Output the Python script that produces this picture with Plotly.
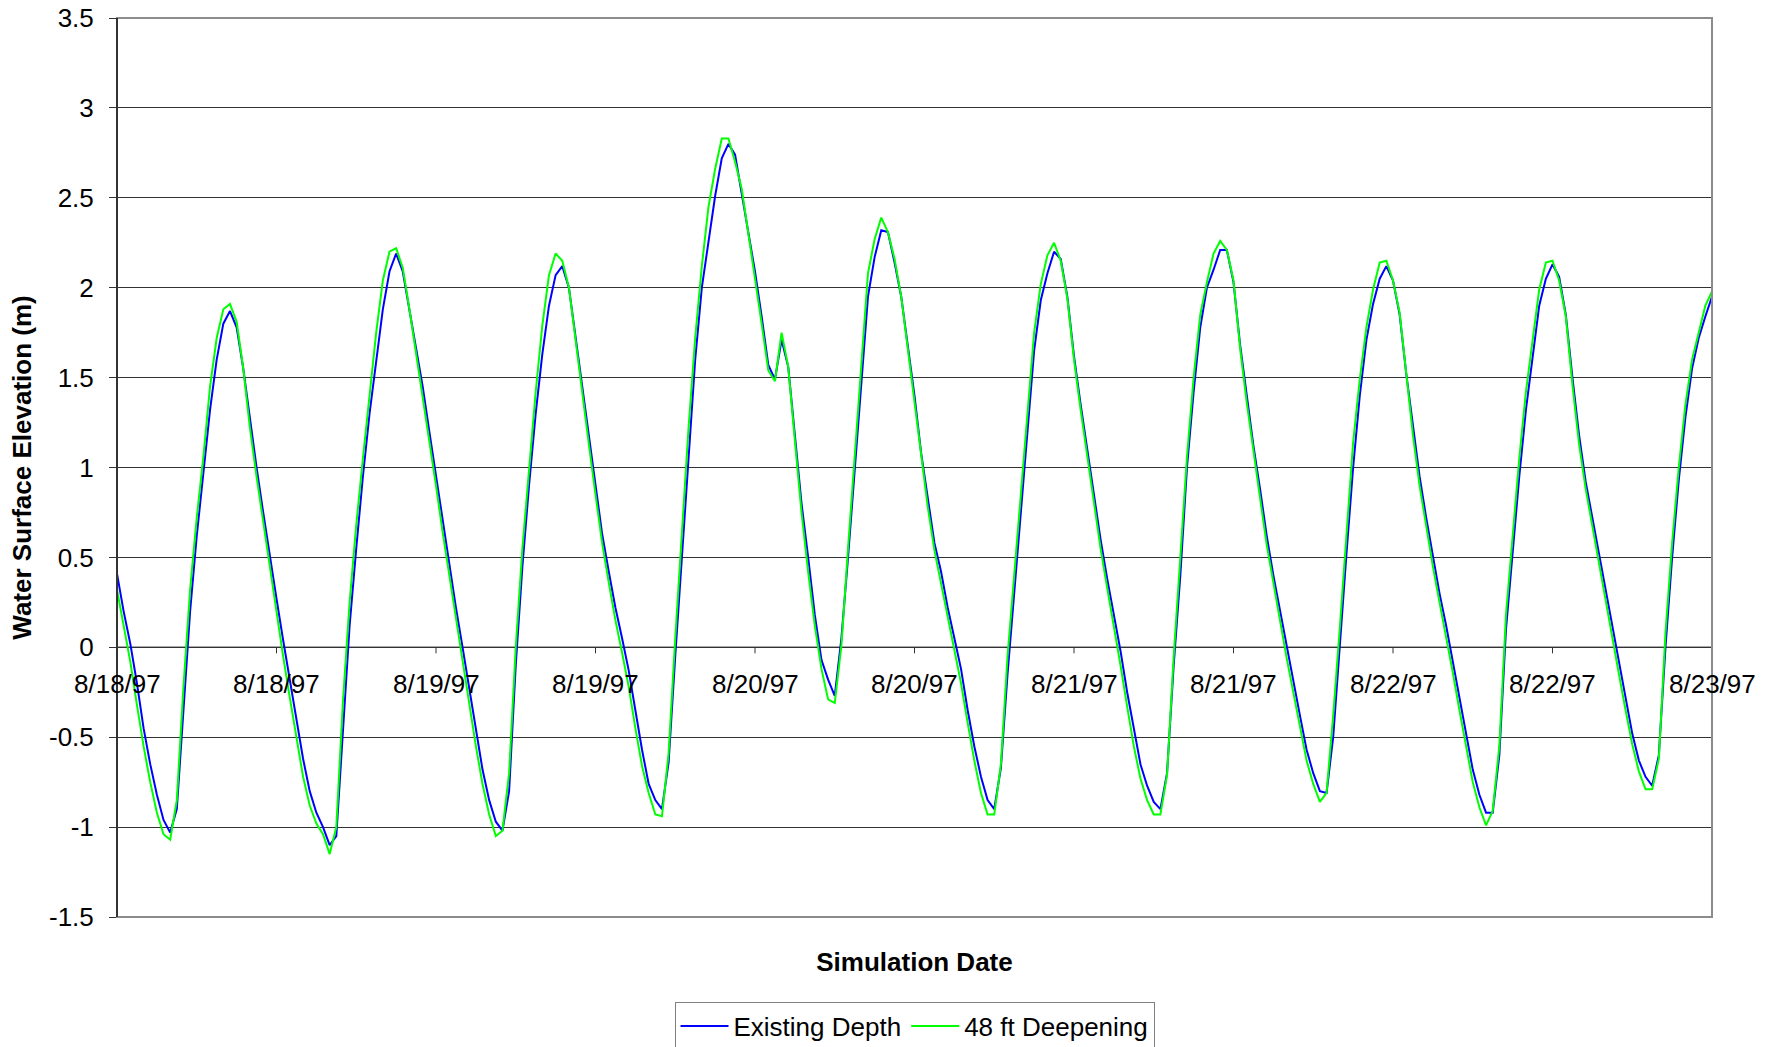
import pandas as pd
import plotly.graph_objects as go

# Half-hourly simulation times, 8/18/97 00:00 to 8/23/97 00:00
times = pd.date_range("1997-08-18 00:00", "1997-08-23 00:00", freq="30min")

existing_depth = [
    0.41, 0.20, 0.02, -0.20, -0.45, -0.65, -0.82, -0.96, -1.03, -0.90, -0.35, 0.20, 0.62, 0.98, 1.32, 1.60, 1.80, 1.87, 1.78, 1.55, 1.27, 1.00, 0.75, 0.50,
    0.27, 0.04, -0.18, -0.42, -0.62, -0.80, -0.92, -1.00, -1.10, -1.05, -0.45, 0.12, 0.55, 0.95, 1.30, 1.60, 1.88, 2.09, 2.19, 2.09, 1.88, 1.66, 1.45, 1.20,
    0.95, 0.70, 0.45, 0.22, 0.00, -0.23, -0.46, -0.68, -0.85, -0.97, -1.02, -0.80, -0.10, 0.45, 0.90, 1.30, 1.63, 1.90, 2.07, 2.12, 2.00, 1.72, 1.45, 1.17,
    0.90, 0.63, 0.42, 0.22, 0.05, -0.13, -0.35, -0.57, -0.76, -0.85, -0.90, -0.64, -0.05, 0.50, 1.10, 1.60, 2.00, 2.25, 2.51, 2.72, 2.80, 2.74, 2.53, 2.31,
    2.09, 1.84, 1.57, 1.49, 1.71, 1.56, 1.18, 0.80, 0.50, 0.18, -0.07, -0.18, -0.27, 0.05, 0.50, 1.00, 1.50, 1.95, 2.17, 2.32, 2.31, 2.14, 1.95, 1.67,
    1.40, 1.08, 0.82, 0.58, 0.42, 0.22, 0.05, -0.12, -0.35, -0.55, -0.72, -0.85, -0.90, -0.67, -0.15, 0.30, 0.80, 1.25, 1.65, 1.93, 2.08, 2.20, 2.16, 1.95,
    1.62, 1.35, 1.10, 0.85, 0.60, 0.38, 0.18, -0.02, -0.25, -0.46, -0.65, -0.77, -0.86, -0.90, -0.70, -0.10, 0.40, 1.00, 1.42, 1.78, 2.00, 2.10, 2.21, 2.21,
    2.03, 1.68, 1.40, 1.12, 0.88, 0.62, 0.40, 0.20, 0.00, -0.18, -0.38, -0.57, -0.70, -0.80, -0.81, -0.50, 0.02, 0.52, 1.00, 1.40, 1.71, 1.91, 2.05, 2.12,
    2.04, 1.85, 1.52, 1.22, 0.95, 0.72, 0.50, 0.30, 0.12, -0.08, -0.28, -0.48, -0.68, -0.82, -0.92, -0.92, -0.60, 0.10, 0.52, 0.95, 1.32, 1.62, 1.90, 2.05,
    2.13, 2.06, 1.85, 1.50, 1.18, 0.92, 0.72, 0.53, 0.32, 0.12, -0.08, -0.28, -0.48, -0.63, -0.72, -0.77, -0.60, 0.00, 0.50, 0.93, 1.28, 1.55, 1.72, 1.84,
    1.95,
]

deepening_48ft = [
    0.32, 0.12, -0.08, -0.32, -0.55, -0.75, -0.92, -1.04, -1.07, -0.85, -0.22, 0.32, 0.72, 1.06, 1.45, 1.72, 1.88, 1.91, 1.81, 1.55, 1.22, 0.95, 0.70, 0.45,
    0.18, -0.05, -0.28, -0.50, -0.72, -0.88, -0.98, -1.04, -1.15, -1.00, -0.30, 0.25, 0.68, 1.05, 1.40, 1.75, 2.04, 2.20, 2.22, 2.11, 1.88, 1.64, 1.40, 1.15,
    0.90, 0.64, 0.40, 0.15, -0.08, -0.32, -0.55, -0.76, -0.93, -1.05, -1.02, -0.70, 0.00, 0.55, 1.00, 1.42, 1.79, 2.07, 2.19, 2.15, 2.00, 1.70, 1.42, 1.13,
    0.85, 0.58, 0.36, 0.15, -0.03, -0.22, -0.45, -0.66, -0.81, -0.93, -0.94, -0.59, 0.05, 0.62, 1.22, 1.72, 2.12, 2.45, 2.66, 2.83, 2.83, 2.70, 2.55, 2.30,
    2.06, 1.80, 1.54, 1.48, 1.75, 1.56, 1.15, 0.75, 0.42, 0.12, -0.12, -0.29, -0.31, 0.01, 0.55, 1.05, 1.58, 2.08, 2.27, 2.39, 2.31, 2.16, 1.95, 1.65,
    1.36, 1.05, 0.78, 0.54, 0.36, 0.16, -0.02, -0.20, -0.42, -0.63, -0.81, -0.93, -0.93, -0.65, -0.05, 0.40, 0.88, 1.35, 1.75, 2.02, 2.18, 2.25, 2.15, 1.94,
    1.60, 1.32, 1.06, 0.80, 0.55, 0.33, 0.12, -0.10, -0.33, -0.55, -0.73, -0.85, -0.93, -0.93, -0.71, -0.05, 0.50, 1.06, 1.50, 1.85, 2.03, 2.19, 2.26, 2.21,
    2.04, 1.66, 1.36, 1.08, 0.83, 0.57, 0.35, 0.15, -0.06, -0.25, -0.45, -0.63, -0.76, -0.86, -0.81, -0.38, 0.11, 0.64, 1.14, 1.49, 1.78, 1.99, 2.14, 2.15,
    2.04, 1.86, 1.50, 1.18, 0.90, 0.67, 0.45, 0.25, 0.06, -0.14, -0.35, -0.56, -0.75, -0.89, -0.99, -0.91, -0.55, 0.18, 0.62, 1.05, 1.42, 1.72, 1.99, 2.14,
    2.15, 2.04, 1.84, 1.46, 1.13, 0.88, 0.67, 0.47, 0.26, 0.05, -0.15, -0.35, -0.54, -0.69, -0.79, -0.79, -0.62, 0.08, 0.58, 1.00, 1.35, 1.60, 1.75, 1.90,
    1.98,
]

x_tick_times = pd.date_range("1997-08-18 00:00", "1997-08-23 00:00", freq="12h")
x_tick_labels = ["8/18/97", "8/18/97", "8/19/97", "8/19/97", "8/20/97", "8/20/97",
                 "8/21/97", "8/21/97", "8/22/97", "8/22/97", "8/23/97"]
y_tick_vals = [-1.5, -1, -0.5, 0, 0.5, 1, 1.5, 2, 2.5, 3, 3.5]
y_tick_text = ["-1.5", "-1", "-0.5", "0", "0.5", "1", "1.5", "2", "2.5", "3", "3.5"]

FONT = "Arial, Liberation Sans, sans-serif"
FS = 26

fig = go.Figure()
fig.add_trace(go.Scatter(x=times, y=existing_depth, mode="lines", name="Existing Depth",
                         line=dict(color="#0000FF", width=2)))
fig.add_trace(go.Scatter(x=times, y=deepening_48ft, mode="lines", name="48 ft Deepening",
                         line=dict(color="#00FF00", width=2)))

# x tick labels placed on the zero line (axis crosses at 0)
for t, lab in zip(x_tick_times, x_tick_labels):
    fig.add_annotation(x=t, y=0, xref="x", yref="y", text=lab, showarrow=False,
                       yanchor="middle", xanchor="center", yshift=-37,
                       font=dict(family=FONT, size=FS, color="black"))
    fig.add_shape(type="line", xref="x", yref="y", x0=t, x1=t, y0=0, y1=-6,
                  ysizemode="pixel", yanchor=0, line=dict(color="#333333", width=1))

# zero line as horizontal axis
fig.add_shape(type="line", xref="paper", yref="y", x0=0, x1=1, y0=0, y1=0,
              line=dict(color="#555555", width=1.5), layer="below")

# gray frame of the plot area, dark left axis
fig.add_shape(type="rect", xref="paper", yref="paper", x0=0, x1=1, y0=0, y1=1,
              line=dict(color="#8c8c8c", width=2), layer="above")
fig.add_shape(type="line", xref="paper", yref="paper", x0=0, x1=0, y0=0, y1=1,
              line=dict(color="#333333", width=2), layer="above")

fig.update_xaxes(
    type="date",
    range=[x_tick_times[0], x_tick_times[-1]],
    showticklabels=False, showgrid=False, zeroline=False, ticks="",
    showline=False,
    title=dict(text="<b>Simulation Date</b>", font=dict(family=FONT, size=FS, color="black"), standoff=35),
)
fig.update_yaxes(
    range=[-1.5, 3.5],
    tickvals=y_tick_vals, ticktext=y_tick_text,
    ticks="outside", ticklen=7, tickcolor="#333333", tickwidth=1,
    ticklabelstandoff=10, ticklabeloverflow="allow",
    showgrid=True, gridcolor="#333333", gridwidth=1,
    zeroline=False,
    showline=False,
    tickfont=dict(family=FONT, size=FS, color="black"),
    title=dict(text="<b>Water Surface Elevation (m)</b>", font=dict(family=FONT, size=FS, color="black"), standoff=9),
)

fig.update_layout(
    width=1778, height=1047,
    margin=dict(l=117, r=66, t=18, b=130, autoexpand=False),
    paper_bgcolor="white", plot_bgcolor="white",
    font=dict(family=FONT, size=FS, color="black"),
    showlegend=True,
    legend=dict(orientation="h", x=0.5, xanchor="center", y=-0.094, yanchor="top",
                bordercolor="#808080", borderwidth=1, bgcolor="white",
                font=dict(family=FONT, size=FS, color="black"),
                itemwidth=48, tracegroupgap=0),
)

# remove the page's default body margin so the figure sits at the window's top-left corner
fig.write_html("out.html", config={"displayModeBar": False},
               post_script="document.body.style.margin='0px';document.body.style.overflow='hidden';")
